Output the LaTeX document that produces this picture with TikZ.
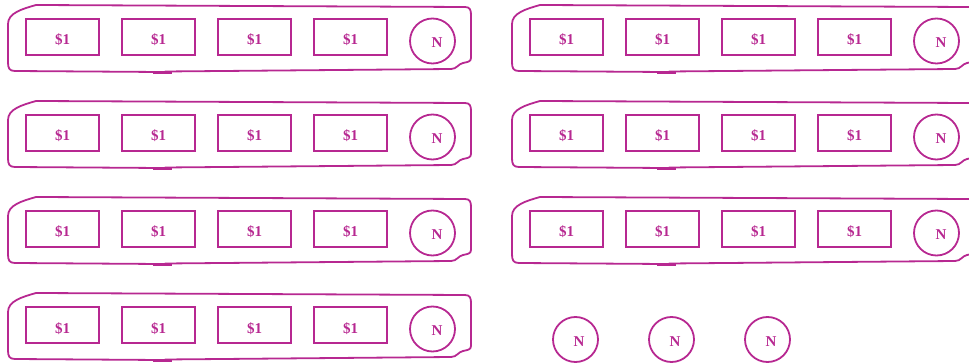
\documentclass[tikz,border=0pt]{standalone}
\usepackage{fontspec}
\setmainfont{Liberation Serif}
\definecolor{mag}{RGB}{183,40,145}
\newcommand{\cashtxt}{\raisebox{-8pt}[0pt][0pt]{\makebox[0pt]{\$1}}}
\newcommand{\cointxt}[1]{\raisebox{-6.5pt}[0pt][0pt]{\makebox[0pt]{\hspace*{#1}N}}}
\tikzset{
  cash/.style={draw=mag, line width=1.8pt, rectangle, minimum width=73pt, minimum height=36pt, inner sep=0pt, text=mag, font=\fontsize{15}{15}\selectfont\bfseries},
  coin/.style={draw=mag, line width=1.8pt, circle, minimum size=45pt, inner sep=0pt, text=mag, font=\fontsize{15}{15}\selectfont\bfseries},
  outline/.style={draw=mag, line width=1.8pt, line join=round, line cap=round},
  grp/.pic={
    \draw[outline] (160,72) -- (15,71) .. controls (9,71) and (8,68) .. (8,62) -- (8,24) .. controls (8,13) and (22,9) .. (36,5) -- (465,7) .. controls (470,7) and (471,10) .. (471,15) -- (471,58) .. controls (471,62) and (467,62) .. (463,63) .. controls (458,64) and (457,69) .. (451,69) -- (165,71.5);
    \draw[mag, line width=2.6pt] (153,72.3) -- (172,72.3);
    \node[cash] (-a) at (62.5,37) {\cashtxt};
    \node[cash] (-b) at (158.5,37) {\cashtxt};
    \node[cash] (-c) at (254.5,37) {\cashtxt};
    \node[cash] (-d) at (350.5,37) {\cashtxt};
    \node[coin] (-n) at (432.5,41) {\cointxt{9pt}};
  }
}
\begin{document}
\begin{tikzpicture}[x=1pt, y=-1pt]
\useasboundingbox (0,0) rectangle (969,363);
\pic (L1) at (0,0) {grp};
\pic (L2) at (0,96) {grp};
\pic (L3) at (0,192) {grp};
\pic (L4) at (0,288) {grp};
\pic (R1) at (504,0) {grp};
\pic (R2) at (504,96) {grp};
\pic (R3) at (504,192) {grp};
\node[coin] (c1) at (575.5,339.5) {\cointxt{7pt}};
\node[coin] (c2) at (671.5,339.5) {\cointxt{7pt}};
\node[coin] (c3) at (767.5,339.5) {\cointxt{7pt}};
\end{tikzpicture}
\end{document}
